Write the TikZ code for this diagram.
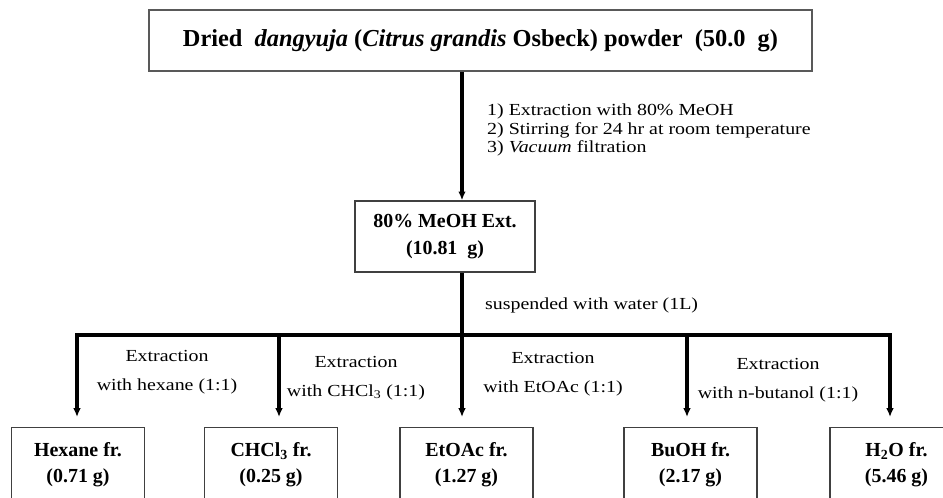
\documentclass[tikz,border=0pt]{standalone}
\usepackage{fontspec}
\setmainfont{Liberation Serif}
\newfontfamily\notefont[FakeStretch=1.18]{Liberation Serif}
\usepackage{tikz}
\usetikzlibrary{arrows.meta,positioning,calc}
\tikzset{%
  box/.style={draw=black!75,line width=1.2pt,align=center,inner sep=0pt,font=\fontsize{17}{23}\selectfont\bfseries},
  arrow/.style={-{Latex[length=7.5pt,width=6.5pt]}, line width=2.6pt}%
}

\begin{document}
\begin{tikzpicture}[
    x=0.03cm,
    y=-0.03cm,
    note/.style={
        font=\notefont\fontsize{14.4}{15.6}\selectfont,
        align=left,
        inner sep=0pt
    },
    extract/.style={
        font=\notefont\fontsize{14.4}{24.5}\selectfont,
        align=center,
        inner sep=0pt
    },
    frbox/.style={
        box,
        anchor=north,
        minimum width=3.99cm,
        minimum height=2.22cm
    },
    bar/.style={line width=2.6pt}
]

\useasboundingbox (0,0) rectangle (943,497);
\clip (0,0) rectangle (943,497);

% Starting material
\node[box, draw=black!65, line width=1.6pt, minimum width=19.89cm, minimum height=1.83cm,
      font=\fontsize{20.8}{24}\selectfont\bfseries] (powder) at (480.5,40.5)
      {Dried\ \ \textit{dangyuja} (\textit{Citrus grandis} Osbeck) powder\ \ (50.0\ \ g)};

% Methanol extract
\node[box, minimum width=5.4cm, minimum height=2.13cm] (meoh) at (445,236.5) {80\% MeOH Ext.\\(10.81\ \ g)};

\coordinate (stem) at (462,0);
\draw[arrow] (powder.south -| stem) -- (meoh.north -| stem);
\node[note, anchor=west] (steps) at (487,130)
      {1)\ Extraction with 80\% MeOH\\2)\ Stirring for 24 hr at room temperature\\3)\ \textit{Vacuum} filtration};

% Suspension and split into the solvent fractions
\node[note, anchor=west] (suspend) at (485,305) {suspended with water (1L)};

\coordinate (barL) at (77,335);
\coordinate (barR) at (890,335);
\coordinate (split) at (stem |- barL);
\coordinate (j2) at (279,335);
\coordinate (j4) at (687,335);

\node[frbox] (hexane) at (78,427) {Hexane fr.\\(0.71 g)};
\node[frbox] (chcl) at (271,427) {CHCl\textsubscript{3} fr.\\(0.25 g)};
\node[frbox] (etoac) at (466.5,427) {EtOAc fr.\\(1.27 g)};
\node[frbox] (buoh) at (690.5,427) {BuOH fr.\\(2.17 g)};
\node[frbox] (htwo) at (896.5,427) {H\textsubscript{2}O fr.\\(5.46 g)};

\draw[bar] (meoh.south -| stem) -- (split);
\draw[arrow, shorten >=0.3cm] (split) -- (barL) -- (barL |- hexane.north);
\draw[arrow, shorten >=0.3cm] (split) -- (barR) -- (barR |- htwo.north);
\draw[arrow, shorten >=0.3cm] (j2) -- (j2 |- chcl.north);
\draw[arrow, shorten >=0.3cm] (split) -- (split |- etoac.north);
\draw[arrow, shorten >=0.3cm] (j4) -- (j4 |- buoh.north);

% Solvent labels
\node[extract] (ex1) at (167,372) {Extraction\\with hexane (1:1)};
\node[extract] (ex2) at (356,378) {Extraction\\with CHCl\textsubscript{3} (1:1)};
\node[extract] (ex3) at (553,374) {Extraction\\with EtOAc (1:1)};
\node[extract] (ex4) at (778,380) {Extraction\\with n-butanol (1:1)};

\end{tikzpicture}
\end{document}
